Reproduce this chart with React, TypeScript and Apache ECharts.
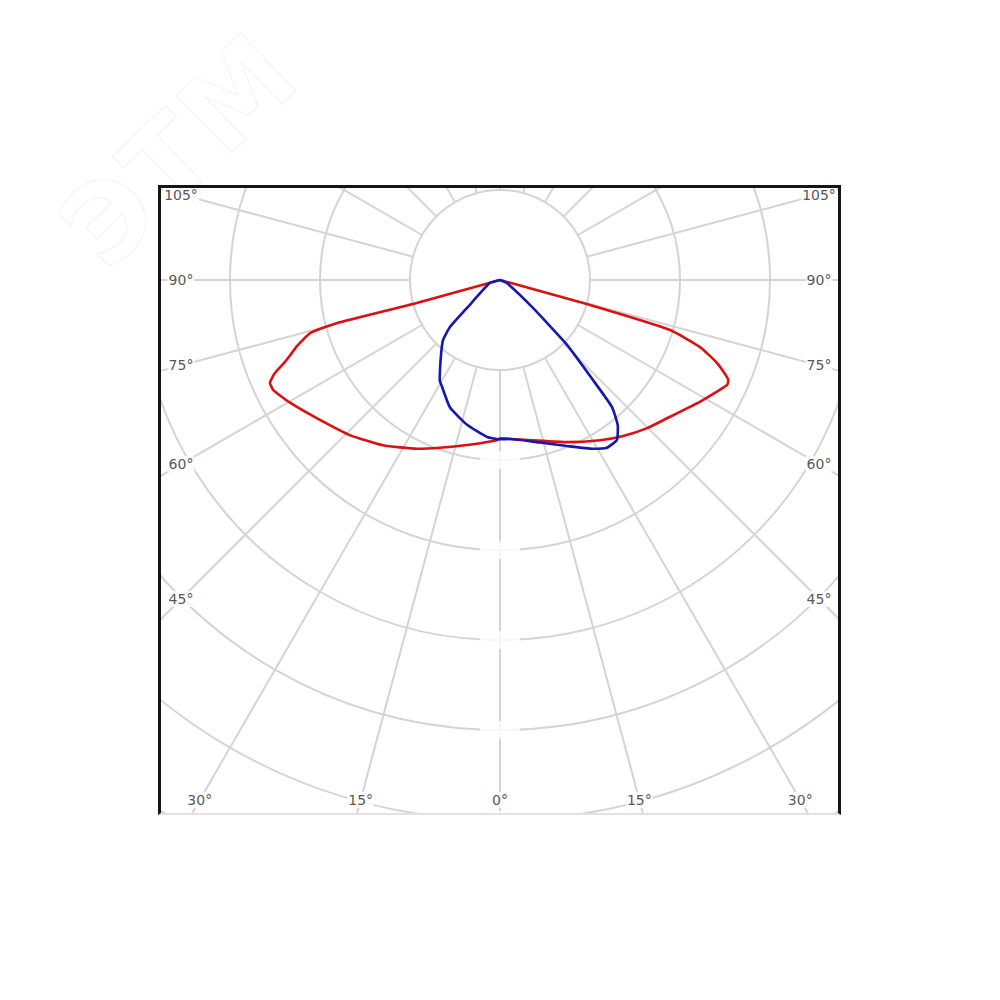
import { useEffect, useRef } from "react";
import * as echarts from "echarts";

// Photometric curves: signed gamma (deg, negative = left half), intensity (ring step = 100)
const redGamma = [-90, -74.5, -75.2, -74.4, -72.0, -70.7, -69.1, -67.5, -65.9, -64.1, -59.6, -53.0, -44.1, -35.3, -26.2, -19.7, -11.3, -1.1, 0, 11.7, 22.5, 32.0, 38.3, 44.8, 50.4, 58.6, 65.2, 66.3, 69.1, 71.5, 73.6, 74.5, 90];
const redIntensity = [0, 96, 188, 219, 237, 245, 256, 271, 280, 280, 270, 255, 240, 225, 209, 198, 187, 178, 176, 182, 195, 210, 221, 232, 241, 260, 278, 277, 258, 234, 197, 96, 0];

const blueGamma = [-90, -73.3, -49.7, -46.8, -43.5, -37.5, -31.0, -28.5, -21.5, -12.8, -4.7, 0, 3.6, 13.8, 22.0, 28.8, 32.5, 36.2, 38.8, 41.4, 42.9, 45.9, 49.7, 66.8, 90];
const blueIntensity = [0, 12, 48, 76, 92, 108, 130, 135, 152, 165, 175, 177, 177, 186, 199, 214, 221, 220, 209, 188, 152, 104, 48, 8, 0];

// Grid
const ringMin = 100;
const ringMax = 1100;
const ringStep = 100;
const spokeStep = 15;
const gapRings = [200, 300, 400, 500, 600];

// Angle tick labels
const sideLabelGammas = [45, 60, 75, 90, 105];
const bottomLabelGammas = [-30, -15, 0, 15, 30];

const CENTER: [number, number] = [339, 92];
const INNER_PX = 90;
const OUTER_PX = 990;
const PX_PER_UNIT = OUTER_PX / ringMax;
const SIDE_DX = 319;
const BOTTOM_DY = 520;

const toAngle = (g: number) => (g >= 0 ? g : 360 + g);
const rad = (d: number) => (d * Math.PI) / 180;

export default function App() {
  const ref = useRef<HTMLDivElement>(null);

  useEffect(() => {
    if (!ref.current) return;
    const chart = echarts.init(ref.current, undefined, { renderer: "svg" });

    const labelData: any[] = [];
    sideLabelGammas.forEach((g) => {
      const r = SIDE_DX / Math.sin(rad(g)) / PX_PER_UNIT;
      labelData.push({ name: `${g}°`, value: [r, 360 - g] });
      labelData.push({ name: `${g}°`, value: [r, g] });
    });
    bottomLabelGammas.forEach((g) => {
      const r = BOTTOM_DY / Math.cos(rad(g)) / PX_PER_UNIT;
      labelData.push({ name: `${Math.abs(g)}°`, value: [r, toAngle(g)] });
    });

    const hidden = {
      axisLine: { show: false },
      axisTick: { show: false },
      axisLabel: { show: false },
    };
    const gridLine = { show: true, lineStyle: { color: "#d4d4d4", width: 2 } };

    chart.setOption({
      animation: false,
      polar: [
        { center: CENTER, radius: [INNER_PX, OUTER_PX] },
        { center: CENTER, radius: [0, OUTER_PX] },
      ],
      angleAxis: [
        {
          polarIndex: 0, type: "value", min: 0, max: 360, interval: spokeStep,
          startAngle: 270, clockwise: false, ...hidden, splitLine: gridLine,
        },
        {
          polarIndex: 1, type: "value", min: 0, max: 360,
          startAngle: 270, clockwise: false, ...hidden, splitLine: { show: false },
        },
      ],
      radiusAxis: [
        {
          polarIndex: 0, type: "value", min: ringMin, max: ringMax, interval: ringStep,
          ...hidden, splitLine: gridLine,
        },
        {
          polarIndex: 1, type: "value", min: 0, max: ringMax,
          ...hidden, splitLine: { show: false },
        },
      ],
      series: [
        {
          type: "scatter", coordinateSystem: "polar", polarIndex: 0, silent: true,
          symbol: "rect", symbolSize: [40, 18], itemStyle: { color: "#ffffff" },
          data: gapRings.map((r) => [r, 0]), z: 2,
        },
        {
          type: "line", coordinateSystem: "polar", polarIndex: 1, silent: true,
          showSymbol: false, symbol: "none", smooth: 0.15,
          lineStyle: { color: "#dc1010", width: 2.6 },
          data: redGamma.map((g, i) => [redIntensity[i], toAngle(g)]), z: 3,
        },
        {
          type: "line", coordinateSystem: "polar", polarIndex: 1, silent: true,
          showSymbol: false, symbol: "none", smooth: 0.15,
          lineStyle: { color: "#1616b0", width: 2.6 },
          data: blueGamma.map((g, i) => [blueIntensity[i], toAngle(g)]), z: 4,
        },
        {
          type: "scatter", coordinateSystem: "polar", polarIndex: 1, silent: true,
          symbolSize: 0, data: labelData, z: 5,
          label: {
            show: true, position: "inside", formatter: "{b}",
            fontFamily: "DejaVu Sans", fontSize: 14, color: "#2a2a2a",
            backgroundColor: "#ffffff", padding: [1, 1],
          },
        },
      ],
    });
    return () => chart.dispose();
  }, []);

  return (
    <>
      <div
        style={{
          position: "absolute", left: 180, top: 150,
          transform: "translate(-50%, -50%) rotate(-44deg)",
          fontFamily: "DejaVu Sans", fontWeight: "bold", fontSize: 110,
          color: "transparent", WebkitTextStroke: "1px #f2f2f2",
          letterSpacing: 4, whiteSpace: "nowrap", userSelect: "none",
        }}
      >
        ЭТМ
      </div>
      <div
        style={{
          position: "absolute", left: 158, top: 185,
          width: 677, height: 625,
          borderLeft: "3px solid #151515", borderTop: "3px solid #151515",
          borderRight: "3px solid #151515", borderBottom: "2px solid #e2e2e2",
          background: "transparent",
        }}
      >
        <div ref={ref} style={{ width: 677, height: 625, overflow: "hidden" }} />
      </div>
    </>
  );
}
